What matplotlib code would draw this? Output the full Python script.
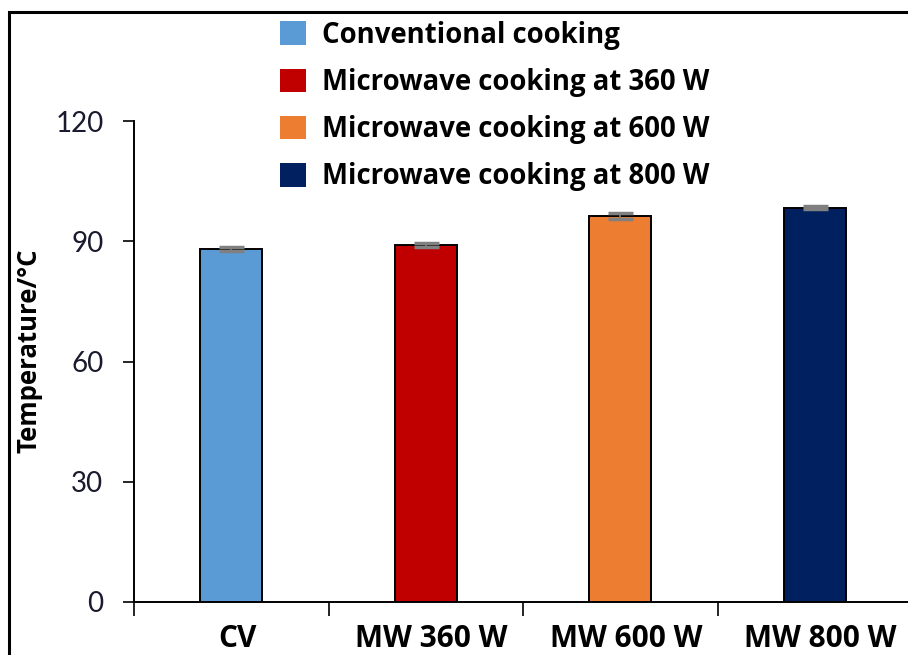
import matplotlib
matplotlib.use("Agg")
import matplotlib.pyplot as plt
from matplotlib.patches import Rectangle, Patch
import numpy as np

plt.rcParams["font.family"] = ["Lato", "DejaVu Sans"]
BOLD = ["Open Sans", "DejaVu Sans"]

categories = ["CV", "MW 360 W", "MW 600 W", "MW 800 W"]
series_names = ["Conventional cooking", "Microwave cooking at 360 W",
                "Microwave cooking at 600 W", "Microwave cooking at 800 W"]
temperature = [88.1, 89.1, 96.3, 98.4]
temp_err = [0.5, 0.5, 0.7, 0.4]
bar_colors = ["#5B9BD5", "#C00000", "#ED7D31", "#002060"]
yticks = [0, 30, 60, 90, 120]

W, H = 908, 655
fig = plt.figure(figsize=(W / 100, H / 100), dpi=100)

# outer frame (cropped at right / bottom like the source)
fig.patches.append(Rectangle((9 / W, -0.1), 1.2, (H - 12) / H + 0.1,
                             transform=fig.transFigure, fill=False,
                             edgecolor="black", lw=2.2))

ax = fig.add_axes([134 / W, 53 / H, 778 / W, 481 / H])
x = np.arange(len(categories))
ax.bar(x, temperature, width=0.32, color=bar_colors, edgecolor="black",
       linewidth=1.4, yerr=temp_err, capsize=9,
       error_kw=dict(ecolor="#808080", elinewidth=1.2, capthick=2.5))

ax.set_xlim(-0.5, len(categories) - 0.5)
ax.set_ylim(0, 120)
ax.set_yticks(yticks)
ax.tick_params(axis="y", direction="out", length=8, width=1.2, labelsize=20, pad=14,
               labelcolor="#1a1a2e")
ax.set_xticks(np.arange(len(categories) + 1) - 0.5)
ax.set_xticklabels([])
ax.tick_params(axis="x", direction="out", length=10, width=1.2)
for i, c in enumerate(categories):
    ax.text(i + 0.03, -9.3, c, ha="center", va="center", fontsize=21.5,
            fontweight="bold", family=BOLD, transform=ax.transData)

for s in ["top", "right"]:
    ax.spines[s].set_visible(False)
for s in ["left", "bottom"]:
    ax.spines[s].set_linewidth(1.4)

fig.text(29 / W, 1 - 351 / H, "Temperature/°C", rotation=90, ha="center",
         va="center", fontsize=18.5, fontweight="bold", family=BOLD)

handles = [Patch(facecolor=c, edgecolor="none") for c in bar_colors]
leg = fig.legend(handles, series_names, loc="upper left",
                 bbox_to_anchor=(255 / W, 1 + 4 / H), frameon=False,
                 prop=dict(family=BOLD, size=19.8, weight="bold"),
                 handlelength=0.95, handleheight=0.95, handletextpad=0.6,
                 labelspacing=0.66)

fig.savefig("out.png", dpi=100)
